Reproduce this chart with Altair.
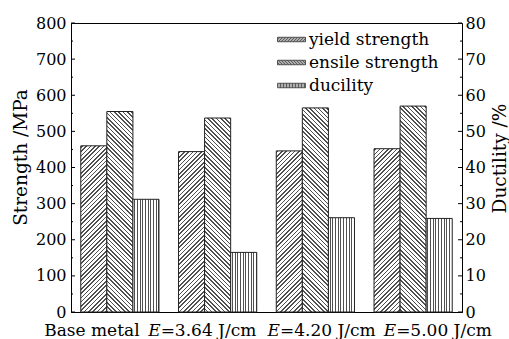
import altair as alt
import pandas as pd

# ---------------- data ----------------
groups = ["Base metal", "E=3.64 J/cm", "E=4.20 J/cm", "E=5.00 J/cm"]
label_italic = ["", "E", "E", "E"]
label_rest = ["Base metal", "=3.64 J/cm", "=4.20 J/cm", "=5.00 J/cm"]
series = ["yield strength", "ensile strength", "ducility"]
yield_strength = [460, 444, 446, 452]
ensile_strength = [555, 537, 565, 570]
ductility = [31.2, 16.5, 26.1, 25.9]
strength_ticks = [0, 100, 200, 300, 400, 500, 600, 700, 800]
strength_minor = [50, 150, 250, 350, 450, 550, 650, 750]
ductility_ticks = [0, 10, 20, 30, 40, 50, 60, 70, 80]

# ---------------- layout / style ----------------
W, H = 391, 289
FONT = "'DejaVu Serif', 'Liberation Serif', serif"
PI, PO = 0.2, 0.1
STEP = W / (len(groups) - PI + 2 * PO)
BW = STEP * (1 - PI) / 3
BG, LINE = "white", "#505050"


def diag_fill(value, direction, period=4.3, lw=1.6):
    h = value * H / 800.0
    r = h / BW
    denom = BW * (1 + r * r)
    stops = [{"offset": 0, "color": BG}]
    s = 1.0
    while s < BW + h:
        t0 = round(s / denom, 6)
        t1 = round((s + lw) / denom, 6)
        stops += [{"offset": t0, "color": BG}, {"offset": t0, "color": LINE},
                  {"offset": t1, "color": LINE}, {"offset": t1, "color": BG}]
        s += period
    if direction == "/":
        x1, y1, x2, y2 = 0, 0, 1, r
    else:
        x1, y1, x2, y2 = 1, 0, 0, r
    return {"gradient": "linear", "x1": x1, "y1": y1, "x2": x2, "y2": y2, "stops": stops}


def vert_fill(period=2.7, lw=1.0):
    stops = [{"offset": 0, "color": BG}]
    s = 1.2
    while s < BW - 0.5:
        t0 = round(s / BW, 6)
        t1 = round(min(s + lw, BW) / BW, 6)
        stops += [{"offset": t0, "color": BG}, {"offset": t0, "color": LINE},
                  {"offset": t1, "color": LINE}, {"offset": t1, "color": BG}]
        s += period
    return {"gradient": "linear", "x1": 0, "y1": 0, "x2": 1, "y2": 0, "stops": stops}


# legend swatch paths (unit coords, scaled by sqrt(size)/2)
SX, SY = 2.8, 0.45


def fmt(v):
    return f"{v:.3f}"


def swatch(kind, per=0.3):
    p = f"M{-SX},{-SY}H{SX}V{SY}H{-SX}Z"
    if kind == "v":
        c = -SX + per
        while c < SX - 0.05:
            p += f"M{fmt(c)},{-SY}V{SY}"
            c += per
    else:
        c = -SX - SY + per * 0.5
        while c < SX + SY:
            ylo = max(-SY, (c - SX) if kind == "/" else (-SX - c))
            yhi = min(SY, (c + SX) if kind == "/" else (SX - c))
            if yhi - ylo > 0.02:
                if kind == "/":
                    p += f"M{fmt(c - ylo)},{fmt(ylo)}L{fmt(c - yhi)},{fmt(yhi)}"
                else:
                    p += f"M{fmt(c + ylo)},{fmt(ylo)}L{fmt(c + yhi)},{fmt(yhi)}"
            c += per
    return p


# ---------------- tables ----------------
rows = []
for i, g in enumerate(groups):
    rows.append({"group": g, "series": series[0], "value": yield_strength[i]})
    rows.append({"group": g, "series": series[1], "value": ensile_strength[i]})
sdf = pd.DataFrame(rows)
ddf = pd.DataFrame({"group": groups, "series": series[2], "value": ductility})
ldf = pd.DataFrame({"group": groups, "it": label_italic, "rest": label_rest})
legdf = pd.DataFrame({"series": series})
tick_major = pd.DataFrame({"v": strength_ticks})
tick_minor = pd.DataFrame({"v": strength_minor})

xenc = alt.X("group:N", scale=alt.Scale(domain=groups, paddingInner=PI, paddingOuter=PO),
             axis=alt.Axis(labels=False, ticks=False, title=None, domainColor="black"))
xoff = alt.XOffset("series:N", scale=alt.Scale(domain=series, paddingInner=0, paddingOuter=0))
ys = alt.Scale(domain=[0, 800], nice=False)
yaxis = alt.Axis(orient="left", values=strength_ticks, ticks=False, grid=False,
                 title="Strength /MPa", titleFont=FONT, titleFontSize=18.5,
                 titleFontWeight="normal", titleColor="black", titleAngle=270,
                 titleBaseline="middle", titleX=-51, titleY=134,
                 labelFont=FONT, labelFontSize=16, labelColor="black",
                 labelPadding=5, domainColor="black")

layers = []
for i, g in enumerate(groups):
    for sname, vals, d in [(series[0], yield_strength, "/"), (series[1], ensile_strength, "\\")]:
        layers.append(
            alt.Chart(sdf)
            .transform_filter((alt.datum.group == g) & (alt.datum.series == sname))
            .mark_bar(fill=diag_fill(vals[i], d), stroke="#222", strokeWidth=1)
            .encode(x=xenc, xOffset=xoff,
                    y=alt.Y("value:Q", scale=ys, axis=yaxis))
        )

# inner ticks (left and right)
for df, ln in [(tick_major, 4), (tick_minor, 2)]:
    layers.append(alt.Chart(df).mark_rule(color="black", strokeWidth=1)
                  .encode(y=alt.Y("v:Q", scale=ys, axis=yaxis), x=alt.value(0), x2=alt.value(ln)))
    layers.append(alt.Chart(df).mark_rule(color="black", strokeWidth=1)
                  .encode(y=alt.Y("v:Q", scale=ys, axis=yaxis), x=alt.value(W), x2=alt.value(W - ln)))

# x labels with italic E
label_dx_center = [-28, -15, 6.6, 25]
ANCH = 42
LY = H + 19
for i, g in enumerate(groups):
    base = alt.Chart(ldf).transform_filter(alt.datum.group == g)
    if label_italic[i]:
        layers.append(base.mark_text(font=FONT, fontSize=17, fontStyle="italic", align="right",
                                     baseline="middle", dx=label_dx_center[i] - ANCH, color="black")
                      .encode(x=xenc, text="it:N", y=alt.value(LY)))
        layers.append(base.mark_text(font=FONT, fontSize=17, align="left",
                                     baseline="middle", dx=label_dx_center[i] - ANCH, color="black")
                      .encode(x=xenc, text="rest:N", y=alt.value(LY)))
    else:
        layers.append(base.mark_text(font=FONT, fontSize=17, align="center",
                                     baseline="middle", dx=label_dx_center[i], color="black")
                      .encode(x=xenc, text="rest:N", y=alt.value(LY)))

# legend via custom-path shapes
layers.append(
    alt.Chart(legdf).mark_point(opacity=0, filled=False, color="black")
    .encode(shape=alt.Shape("series:N",
                            scale=alt.Scale(domain=series,
                                            range=[swatch("/"), swatch("\\"), swatch("v")]),
                            legend=alt.Legend(orient="none", legendX=212, legendY=8, title=None,
                                              symbolSize=100, symbolStrokeWidth=0.8,
                                              symbolStrokeColor="#333", symbolFillColor="white",
                                              symbolOpacity=1, labelOffset=9, rowPadding=5,
                                              labelFont=FONT, labelFontSize=17,
                                              labelColor="black", padding=0)))
)

strength = alt.layer(*layers)

duct = (
    alt.Chart(ddf)
    .mark_bar(fill=vert_fill(), stroke="#222", strokeWidth=1)
    .encode(x=xenc, xOffset=xoff,
            y=alt.Y("value:Q", scale=alt.Scale(domain=[0, 80], nice=False),
                    axis=alt.Axis(orient="right", values=ductility_ticks, ticks=False, grid=False,
                                  title="Ductility /%", titleFont=FONT, titleFontSize=18.5,
                                  titleFontWeight="normal", titleColor="black", titleAngle=270,
                                  titleBaseline="middle", titleX=37, titleY=135,
                                  labelFont=FONT, labelFontSize=16, labelColor="black",
                                  labelPadding=3, domainColor="black")))
)

chart = (
    alt.layer(strength, duct)
    .resolve_scale(y="independent")
    .properties(width=W, height=H, autosize=alt.AutoSizeParams(type="none"),
                padding={"left": 71, "top": 23, "right": 47, "bottom": 27},
                background="white")
    .configure_view(stroke="black", strokeWidth=1)
)

chart.save("out.html", embed_options={"renderer": "svg", "actions": False})
